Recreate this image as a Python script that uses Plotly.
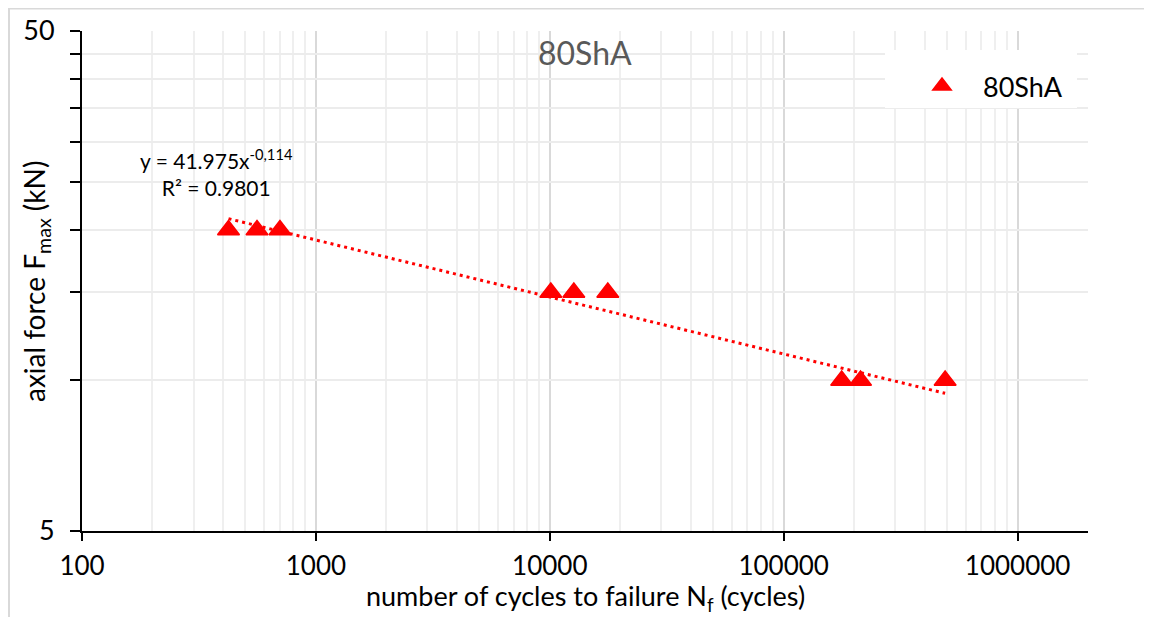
import plotly.graph_objects as go
import numpy as np

# ---- data ----
cycles = [423, 560, 702, 10100, 12670, 17700, 177000, 213000, 490000]
force = [20, 20, 20, 15, 15, 15, 10, 10, 10]
series_name = "80ShA"
trend_a = 41.975
trend_b = -0.114
trend_text = "y = 41.975x<sup>-0,114</sup><br>R² = 0.9801"
x_ticks = [100, 1000, 10000, 100000, 1000000]
y_ticks = [5, 10, 15, 20, 25, 30, 35, 40, 45, 50]
y_ticktext = ["5", "", "", "", "", "", "", "", "", "50"]

FONT = "Lato"
RED = "#ff0000"

# trendline from the fitted equation over the data range
tx = np.logspace(np.log10(min(cycles)), np.log10(max(cycles)), 20)
ty = trend_a * tx ** trend_b

fig = go.Figure()
fig.add_trace(go.Scatter(
    x=tx, y=ty, mode="lines", showlegend=False, hoverinfo="skip",
    line=dict(color=RED, width=3, dash="3px,4px"),
))
fig.add_trace(go.Scatter(
    x=cycles, y=force, mode="markers", name=series_name,
    marker=dict(symbol="triangle-up", size=19, color=RED,
                line=dict(color=RED, width=1.5)),
))

OFF = 8  # page body margin
W, H = 1152 - OFF, 617 - OFF
# plot area in screen pixels
PX0, PX1, PY0, PY1 = 82, 1088, 31, 531
L = PX0 - OFF
R = W - (PX1 - OFF)
T = PY0 - OFF
B = H - (PY1 - OFF)
pw = PX1 - PX0
ph = PY1 - PY0


def px2x(px):
    return (px - PX0) / pw


def px2y(py):
    return (PY1 - py) / ph


fig.update_layout(
    width=W, height=H,
    margin=dict(l=L, r=R, t=T, b=B, autoexpand=False),
    paper_bgcolor="white", plot_bgcolor="white",
    font=dict(family=FONT, color="#000000"),
    showlegend=True,
    legend=dict(x=px2x(901), y=px2y(62), xanchor="left", yanchor="top",
                bgcolor="rgba(0,0,0,0)", font=dict(size=27, family=FONT, color="#000000"),
                itemwidth=72),
    xaxis=dict(
        type="log", range=[2, np.log10(2e6)],
        tickvals=x_ticks, ticktext=[str(v) for v in x_ticks],
        ticks="outside", ticklen=8, tickwidth=2, tickcolor="#000000",
        showline=True, linecolor="#000000", linewidth=2,
        showgrid=True, gridcolor="#d9d9d9", gridwidth=1.5,
        minor=dict(tickvals=[m * 10 ** e for e in range(2, 7) for m in range(2, 10) if m * 10 ** e <= 2e6],
                   showgrid=True, gridcolor="#efefef", gridwidth=1.5, ticks=""),
        tickfont=dict(size=26, family=FONT, color="#000000"),
        ticklabelstandoff=3,
        zeroline=False,
    ),
    yaxis=dict(
        type="log", range=[np.log10(5), np.log10(50)],
        tickvals=y_ticks, ticktext=y_ticktext,
        ticks="outside", ticklen=10, tickwidth=2, tickcolor="#000000",
        showline=True, linecolor="#000000", linewidth=2,
        showgrid=True, gridcolor="#ececec", gridwidth=1.5,
        tickfont=dict(size=27, family=FONT, color="#000000"),
        ticklabelstandoff=10,
        zeroline=False,
    ),
    shapes=[
        # outer chart border (top & left visible)
        dict(type="rect", xref="paper", yref="paper",
             x0=px2x(9), x1=px2x(1200), y0=px2y(700), y1=px2y(8.5),
             line=dict(color="#d9d9d9", width=2), fillcolor="rgba(0,0,0,0)", layer="above"),
        # legend background box
        dict(type="rect", xref="paper", yref="paper",
             x0=px2x(885), x1=px2x(1077), y0=px2y(108), y1=px2y(50),
             line=dict(width=0), fillcolor="white", layer="above"),
    ],
    annotations=[
        dict(text=series_name, xref="paper", yref="paper", x=px2x(585), y=px2y(52),
             xanchor="center", yanchor="middle", showarrow=False,
             font=dict(size=32, family=FONT, color="#595959")),
        dict(text=trend_text, xref="paper", yref="paper", x=px2x(216), y=px2y(172),
             xanchor="center", yanchor="middle", showarrow=False, align="center",
             font=dict(size=21, family=FONT, color="#000000")),
        # axis titles
        dict(text="number of cycles to failure N<sub>f</sub> (cycles)", xref="paper", yref="paper",
             x=px2x(585), y=px2y(597), xanchor="center", yanchor="middle", showarrow=False,
             font=dict(size=27, family=FONT, color="#000000")),
        dict(text="axial force F<sub>max</sub> (kN)", xref="paper", yref="paper",
             x=px2x(36), y=px2y(282), xanchor="center", yanchor="middle", showarrow=False,
             textangle=-90, font=dict(size=28, family=FONT, color="#000000")),
    ],
)

fig.write_html("out.html")
